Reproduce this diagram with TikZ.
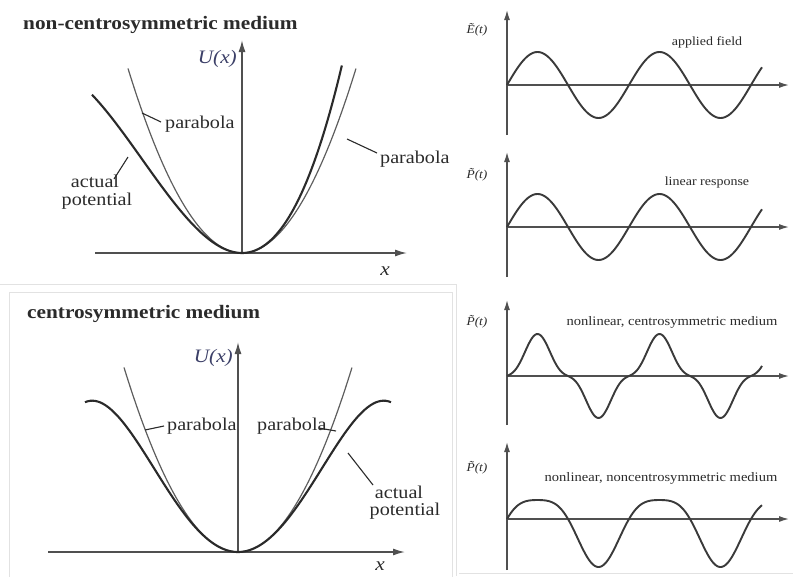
\documentclass[tikz,border=0pt]{standalone}
\usepackage{fontspec}
\setmainfont{Liberation Serif}[FakeStretch=1.12]
\usetikzlibrary{arrows.meta}
\definecolor{axisc}{HTML}{505050}
\definecolor{parac}{HTML}{5E5E5E}
\definecolor{actc}{HTML}{2A2A2A}
\definecolor{txtc}{HTML}{2B2B2B}
\definecolor{ulab}{HTML}{3C4068}
\definecolor{framec}{HTML}{E2E2E2}
\definecolor{wavec}{HTML}{3A3A3A}
\begin{document}
\begin{tikzpicture}[x=1pt,y=-1pt,
  axisL/.style={draw=axisc,line width=1.5pt,-{Latex[length=12pt,width=7pt]}},
  axisR/.style={draw=axisc,line width=1.3pt,-{Latex[length=10pt,width=6pt]}},
  para/.style={draw=parac,line width=1.2pt},
  actual/.style={draw=actc,line width=2.1pt},
  wave/.style={draw=wavec,line width=1.9pt},
  leader/.style={draw=txtc,line width=1.1pt},
  title/.style={font=\fontsize{19}{21}\selectfont\bfseries,text=txtc,inner sep=0pt},
  lab/.style={font=\fontsize{18}{16}\selectfont,text=txtc,inner sep=0pt},
  ulabel/.style={font=\fontsize{19}{21}\selectfont\itshape,text=ulab,inner sep=0pt},
  xlabel/.style={font=\fontsize{19}{21}\selectfont\itshape,text=txtc,inner sep=0pt},
  rlab/.style={font=\fontsize{12.5}{14}\selectfont,text=txtc,inner sep=0pt},
  rlabb/.style={font=\fontsize{13}{14}\selectfont,text=txtc,inner sep=0pt},
  ylab/.style={font=\fontsize{12}{13}\selectfont\itshape,text=txtc,inner sep=0pt},
  frame/.style={draw=framec,line width=1pt}]
\useasboundingbox (0,0) rectangle (793,576);
\fill[white] (0,0) rectangle (793,576);

% frames
\draw[frame] (0,284) -- (456,284) -- (456,576);
\draw[frame] (9,578) -- (9,292) -- (452,292) -- (452,578);
\draw[frame] (459,573) -- (793,573);

% ---------- top-left: non-centrosymmetric ----------
\node[title,anchor=base west] (t1) at (23,29) {non-centrosymmetric medium};
\coordinate (o1) at (242,253);
\draw[axisL] (95,253) -- (407,253);
\draw[axisL] (o1) -- (242,40);
\node[ulabel,anchor=base east] (u1) at (237,63) {U(x)};
\node[xlabel] (x1) at (385,271) {x};
\draw[para] plot[domain=-1.14:1.14,samples=80] ({242+100*\x},{253-142*\x*\x});
\draw[actual] plot[domain=-1.5:1.0,samples=100] ({242+100*\x},{253-141*\x*\x-47.1*\x*\x*\x});
\node[lab,anchor=base west] (p1) at (165,128) {parabola};
\node[lab,anchor=base west] (p2) at (380,163) {parabola};
\node[lab,anchor=base] (a1) at (95,187) {actual};
\node[lab,anchor=base] (a1b) at (97,205) {potential};
\coordinate (p1e) at (142,113);
\coordinate (p2e) at (347,139);
\coordinate (a1e) at (128,157);
\draw[leader] (p1e) -- (161,122);
\draw[leader] (p2e) -- (377,153);
\draw[leader] (a1e) -- (114,179);

% ---------- bottom-left: centrosymmetric ----------
\node[title,anchor=base west] (t2) at (27,318) {centrosymmetric medium};
\coordinate (o2) at (238,552);
\draw[axisL] (48,552) -- (405,552);
\draw[axisL] (o2) -- (238,342);
\node[ulabel,anchor=base east] (u2) at (233,362) {U(x)};
\node[xlabel] (x2) at (380,566) {x};
\draw[para] plot[domain=-1.14:1.14,samples=80] ({238+100*\x},{552-142*\x*\x});
\draw[actual] plot[domain=-1.53:1.53,samples=120] ({238+100*\x},{552-142.4*\x*\x+33.5*\x*\x*\x*\x});
\node[lab,anchor=base west] (p3) at (167,430) {parabola};
\node[lab,anchor=base west] (p4) at (257,430) {parabola};
\node[lab,anchor=base] (a2) at (399,498) {actual};
\node[lab,anchor=base] (a2b) at (405,515) {potential};
\coordinate (p3e) at (145,430);
\coordinate (p4e) at (336,431);
\coordinate (a2e) at (348,453);
\draw[leader] (p3e) -- (164,426);
\draw[leader] (p4.base east) ++(-8,-2) -- (p4e);
\draw[leader] (a2e) -- (373,485);

% ---------- right: field and responses ----------
% applied field
\draw[axisR] (507,135) -- (507,10);
\draw[axisR] (507,85) -- (789,85);
\node[ylab] (e1) at (477,30) {Ẽ(t)};
\node[rlab] (l1) at (707,42) {applied field};
\draw[wave] plot[domain=0:255,samples=160] ({507+\x},{85-33*sin(\x*2.9508)});

% linear response
\draw[axisR] (507,277) -- (507,152);
\draw[axisR] (507,227) -- (789,227);
\node[ylab] (e2) at (477,175) {P̃(t)};
\node[rlab] (l2) at (707,182) {linear response};
\draw[wave] plot[domain=0:255,samples=160] ({507+\x},{227-33*sin(\x*2.9508)});

% nonlinear centrosymmetric
\draw[axisR] (507,425) -- (507,300);
\draw[axisR] (507,376) -- (789,376);
\node[ylab] (e3) at (477,322) {P̃(t)};
\node[rlabb] (l3) at (672,322) {nonlinear, centrosymmetric medium};
\draw[wave] plot[domain=0:255,samples=200] ({507+\x},{376-42*(0.22*sin(\x*2.9508)+0.78*sin(\x*2.9508)*sin(\x*2.9508)*sin(\x*2.9508))});

% nonlinear noncentrosymmetric
\draw[axisR] (507,570) -- (507,442);
\draw[axisR] (507,519) -- (789,519);
\node[ylab] (e4) at (477,468) {P̃(t)};
\node[rlabb] (l4) at (661,478) {nonlinear, noncentrosymmetric medium};
\draw[wave] plot[domain=0:255,samples=200] ({507+\x},{519-33.5*(sin(\x*2.9508)-0.433*sin(\x*2.9508)*sin(\x*2.9508))});
\end{tikzpicture}
\end{document}
